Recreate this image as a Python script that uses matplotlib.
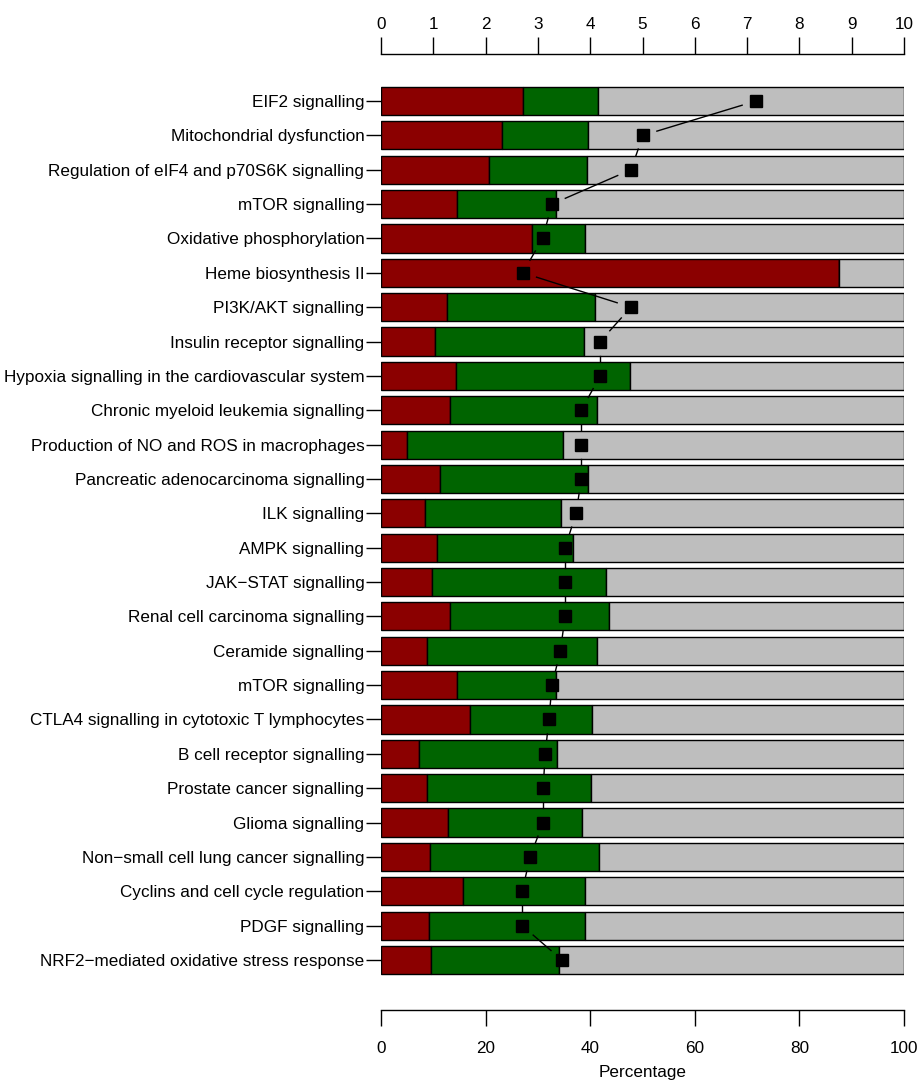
import numpy as np
import matplotlib
matplotlib.use('Agg')
import matplotlib.pyplot as plt

plt.rcParams['font.family'] = ['Liberation Sans', 'DejaVu Sans']

pathways = [
    'EIF2 signalling',
    'Mitochondrial dysfunction',
    'Regulation of eIF4 and p70S6K signalling',
    'mTOR signalling',
    'Oxidative phosphorylation',
    'Heme biosynthesis II',
    'PI3K/AKT signalling',
    'Insulin receptor signalling',
    'Hypoxia signalling in the cardiovascular system',
    'Chronic myeloid leukemia signalling',
    'Production of NO and ROS in macrophages',
    'Pancreatic adenocarcinoma signalling',
    'ILK signalling',
    'AMPK signalling',
    'JAK\u2212STAT signalling',
    'Renal cell carcinoma signalling',
    'Ceramide signalling',
    'mTOR signalling',
    'CTLA4 signalling in cytotoxic T lymphocytes',
    'B cell receptor signalling',
    'Prostate cancer signalling',
    'Glioma signalling',
    'Non\u2212small cell lung cancer signalling',
    'Cyclins and cell cycle regulation',
    'PDGF signalling',
    'NRF2\u2212mediated oxidative stress response',
]

# percentage of molecules (red / green segments; grey = rest)
red_pct = [27.2, 23.2, 20.7, 14.5, 28.8, 87.5, 12.6, 10.4, 14.4, 13.1, 5.0, 11.3, 8.4,
           10.7, 9.8, 13.1, 8.8, 14.5, 17.1, 7.2, 8.8, 12.8, 9.3, 15.6, 9.1, 9.6]
green_pct = [14.3, 16.3, 18.7, 18.9, 10.3, 0.0, 28.3, 28.5, 33.3, 28.2, 29.8, 28.3, 26.1,
             26.0, 33.3, 30.5, 32.5, 18.9, 23.2, 26.4, 31.3, 25.6, 32.3, 23.4, 29.9, 24.4]
# score on the top axis (squares)
score = [7.17, 5.01, 4.78, 3.27, 3.09, 2.71, 4.78, 4.19, 4.19, 3.83, 3.83, 3.83, 3.73,
         3.52, 3.52, 3.52, 3.43, 3.27, 3.21, 3.14, 3.10, 3.10, 2.85, 2.70, 2.70, 3.46]

W, H = 921, 1082
fig = plt.figure(figsize=(W / 100, H / 100), dpi=100)

# axes box in pixels: x 381..904, y 54..1010 (from top)
left, right, top, bottom = 381, 904, 54, 1010
ax = fig.add_axes([left / W, 1 - bottom / H, (right - left) / W, (bottom - top) / H])

n = len(pathways)
ypos = np.arange(n)
red = np.array(red_pct)
green = np.array(green_pct)
grey = 100 - red - green

bh = 0.82
kw = dict(height=bh, edgecolor='black', linewidth=1.0)
ax.barh(ypos, red, left=0, color='#8B0000', **kw)
ax.barh(ypos, green, left=red, color='#006400', **kw)
ax.barh(ypos, grey, left=red + green, color='#BEBEBE', **kw)

ax.set_xlim(0, 100)
row_px = (960 - 101) / (n - 1)
ax.set_ylim((bottom - 101) / row_px, -(101 - top) / row_px)

for s in ['left', 'right', 'top']:
    ax.spines[s].set_visible(False)
ax.spines['bottom'].set_linewidth(1.0)
ax.set_xticks([0, 20, 40, 60, 80, 100])
ax.tick_params(axis='x', direction='out', length=11.5, width=1.0, pad=11, labelsize=12.3)
ax.set_yticks(ypos)
ax.set_yticklabels(pathways)
ax.tick_params(axis='y', direction='out', length=11, width=1.0, pad=1, labelsize=12.3)

# top axis for the squares
ax2 = ax.twiny()
ax2.set_xlim(0, 10)
for s in ['left', 'right', 'bottom']:
    ax2.spines[s].set_visible(False)
ax2.spines['top'].set_linewidth(1.0)
ax2.set_xticks(np.arange(0, 11))
ax2.tick_params(axis='x', direction='out', length=12, width=1.0, pad=4, labelsize=12.3)

# line with gaps around the points (like R type = "b")
pts = ax2.transData.transform(np.column_stack([score, ypos]))
gap = 14.5
inv = ax2.transData.inverted()
for i in range(n - 1):
    p0, p1 = pts[i], pts[i + 1]
    d = p1 - p0
    L = np.hypot(*d)
    if L <= 2 * gap:
        continue
    u = d / L
    a = inv.transform(p0 + u * gap)
    b = inv.transform(p1 - u * gap)
    ax2.plot([a[0], b[0]], [a[1], b[1]], color='black', linewidth=1.0, zorder=3)
ax2.plot(score, ypos, linestyle='none', marker='s', markersize=8.5,
         color='black', zorder=4)

fig.text((left + right) / 2 / W, 1 - 1073 / H, 'Percentage', ha='center', va='center',
         fontsize=12.3)

fig.savefig('out.png', dpi=100)
